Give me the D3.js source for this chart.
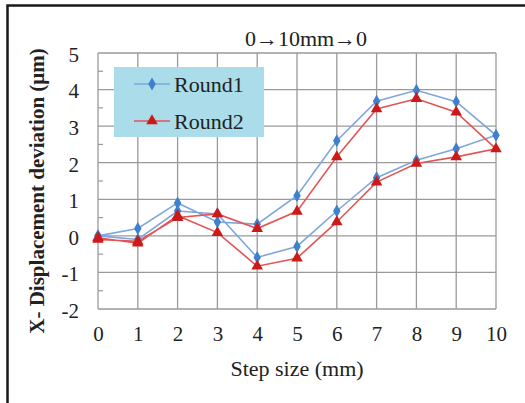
<!DOCTYPE html>
<html>
<head>
<meta charset="utf-8">
<script src="https://cdn.jsdelivr.net/npm/d3@7"></script>
<style>
  html, body { margin: 0; padding: 0; background: #fff; }
  svg { display: block; }
  text { font-family: "Liberation Serif", "Times New Roman", serif; fill: #222; }
</style>
</head>
<body>
<svg id="chart" width="525" height="403"></svg>
<script>
// Step positions along the loop: out from 0 to 10 mm and back to 0
const steps = [0, 1, 2, 3, 4, 5, 6, 7, 8, 9, 10, 9, 8, 7, 6, 5, 4, 3, 2, 1, 0];
const round1 = [0, 0.2, 0.9, 0.38, 0.32, 1.1, 2.6, 3.68, 3.98, 3.67, 2.75,
                2.38, 2.07, 1.59, 0.68, -0.29, -0.59, 0.6, 0.68, -0.1, 0];
const round2 = [-0.1, -0.15, 0.5, 0.6, 0.2, 0.67, 2.16, 3.47, 3.75, 3.38, 2.38,
                2.16, 1.98, 1.47, 0.38, -0.61, -0.83, 0.09, 0.55, -0.2, -0.05];
const xTicks = [0, 1, 2, 3, 4, 5, 6, 7, 8, 9, 10];
const yTicks = [-2, -1, 0, 1, 2, 3, 4, 5];
const seriesNames = ["Round1", "Round2"];

const svg = d3.select("#chart");

// outer frame of the figure
svg.append("rect")
  .attr("x", 7.5).attr("y", 5.5)
  .attr("width", 530).attr("height", 410)
  .attr("fill", "none").attr("stroke", "#1a1a1a").attr("stroke-width", 2.5);

const plot = { left: 98, right: 496, top: 53, bottom: 309 };
const x = d3.scaleLinear().domain([0, 10]).range([plot.left, plot.right]);
const y = d3.scaleLinear().domain([-2, 5]).range([plot.bottom, plot.top]);

const grid = svg.append("g");
// horizontal grid
grid.selectAll("line.h").data(yTicks).join("line")
  .attr("x1", plot.left).attr("x2", plot.right)
  .attr("y1", d => y(d)).attr("y2", d => y(d))
  .attr("stroke", "#9a9a9a").attr("stroke-width", 1.3);
// vertical grid
grid.selectAll("line.v").data(xTicks).join("line")
  .attr("y1", plot.top).attr("y2", plot.bottom)
  .attr("x1", d => x(d)).attr("x2", d => x(d))
  .attr("stroke", "#9a9a9a").attr("stroke-width", 1.3);
// minor ticks at half units on the value axis
const minor = d3.range(-1.5, 5, 1);
grid.selectAll("line.m").data(minor).join("line")
  .attr("x1", plot.left).attr("x2", plot.left + 5)
  .attr("y1", d => y(d)).attr("y2", d => y(d))
  .attr("stroke", "#9a9a9a").attr("stroke-width", 1.2);

// axis tick labels (plain hyphen for negatives)
const fmt = d => String(d);
const yAxis = d3.axisLeft(y).tickValues(yTicks).tickFormat(fmt).tickSize(0).tickPadding(19);
const gy = svg.append("g").attr("transform", `translate(${plot.left},0)`).call(yAxis);
gy.select(".domain").remove();
gy.selectAll("text").attr("font-size", 21).attr("dy", "0.4em")
  .attr("font-family", "Liberation Serif").attr("fill", "#222");

const xAxis = d3.axisBottom(x).tickValues(xTicks).tickFormat(fmt).tickSize(0).tickPadding(17);
const gx = svg.append("g").attr("transform", `translate(0,${plot.bottom})`).call(xAxis);
gx.select(".domain").remove();
gx.selectAll("text").attr("font-size", 21)
  .attr("font-family", "Liberation Serif").attr("fill", "#222");

// titles
svg.append("text").attr("x", 306).attr("y", 46).attr("text-anchor", "middle")
  .attr("font-size", 22).text("0→10mm→0");
svg.append("text").attr("x", 297).attr("y", 376).attr("text-anchor", "middle")
  .attr("font-size", 22).text("Step size (mm)");
svg.append("text")
  .attr("transform", "translate(44,191) rotate(-90)")
  .attr("text-anchor", "middle").attr("font-size", 21).attr("font-weight", "bold")
  .text("X- Displacement deviation (μm)");

// series
const series = [
  { name: seriesNames[0], values: round1, line: "#7fa6dc", mark: "#3f7fcf", shape: d3.symbolDiamond, size: 48 },
  { name: seriesNames[1], values: round2, line: "#e25555", mark: "#cc1a1a", shape: d3.symbolTriangle, size: 58 }
];

const lineGen = d3.line().x(d => x(d[0])).y(d => y(d[1]));

series.forEach(s => {
  const pts = steps.map((st, i) => [st, s.values[i]]);
  svg.append("path").datum(pts)
    .attr("d", lineGen).attr("fill", "none")
    .attr("stroke", s.line).attr("stroke-width", 1.6);
  svg.append("g").selectAll("path").data(pts).join("path")
    .attr("transform", d => `translate(${x(d[0])},${y(d[1])})`)
    .attr("d", d3.symbol().type(s.shape).size(s.size))
    .attr("fill", s.mark);
});

// legend
const lg = svg.append("g");
lg.append("rect").attr("x", 114).attr("y", 67).attr("width", 150).attr("height", 70)
  .attr("fill", "#abdce9");
series.forEach((s, i) => {
  const cy = 84 + i * 37;
  lg.append("line").attr("x1", 134).attr("x2", 170).attr("y1", cy).attr("y2", cy)
    .attr("stroke", s.line).attr("stroke-width", 1.6);
  lg.append("path").attr("transform", `translate(152,${cy})`)
    .attr("d", d3.symbol().type(s.shape).size(s.size)).attr("fill", s.mark);
  lg.append("text").attr("x", 174).attr("y", cy + 8).attr("font-size", 22).text(s.name);
});
</script>
</body>
</html>
